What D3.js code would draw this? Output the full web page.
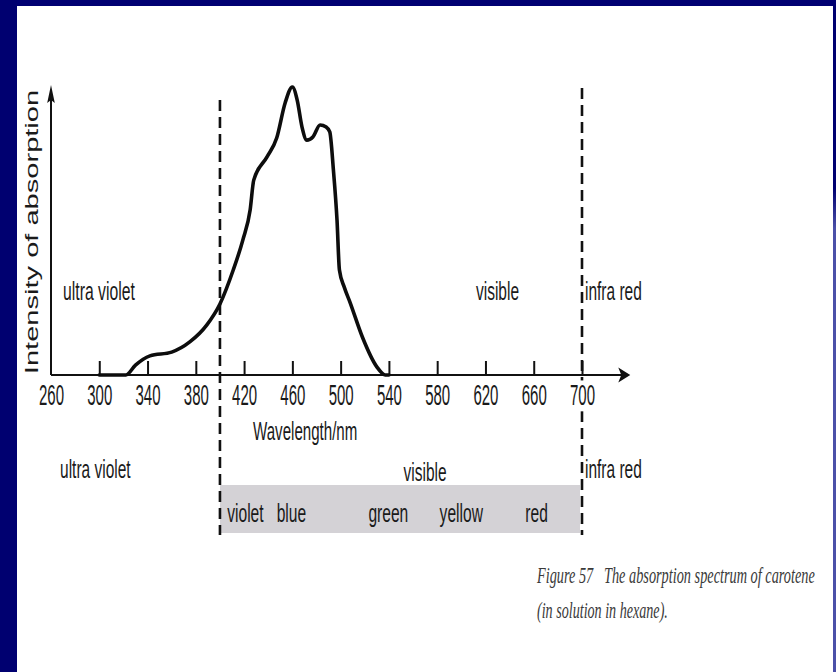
<!DOCTYPE html>
<html>
<head>
<meta charset="utf-8">
<script src="https://cdn.jsdelivr.net/npm/d3@7"></script>
<style>
  html, body { margin: 0; padding: 0; background: #ffffff; }
  svg { display: block; }
  text { font-family: "Liberation Sans", Arial, sans-serif; fill: #1a1a1a; }
</style>
</head>
<body>
<script>
// ---------- data ----------
const wavelengths = [300, 322, 330, 342, 360, 375, 389, 400, 411, 419, 425, 428, 439, 447, 454, 460, 464, 468, 472, 477, 483, 488, 491, 494, 497, 499, 503, 508, 518, 530, 537, 540];
const absorption  = [0,   0,   3.4, 6.6, 7.9, 11.4, 17.2, 24.5, 36.2, 46.6, 56.9, 67.2, 75.2, 81.7, 93.8, 99.3, 94.8, 85.5, 81.0, 82.1, 86.2, 85.5, 83.8, 70.7, 53.4, 36.2, 30.3, 24.8, 13.1, 2.8, 0, 0];
const tickValues  = [260, 300, 340, 380, 420, 460, 500, 540, 580, 620, 660, 700];
const regionBounds = [400, 700];            // dashed lines (nm)
const upperLabels = ["ultra violet", "visible", "infra red"];
const lowerLabels = ["ultra violet", "visible", "infra red"];
const colourNames = ["violet", "blue", "green", "yellow", "red"];
const colourNm    = [406, 447, 523, 582, 653];
const xTitle = "Wavelength/nm";
const yTitle = "Intensity of absorption";
const caption = ["Figure 57\u00a0\u00a0\u00a0The absorption spectrum of carotene", "(in solution in hexane)."];

// ---------- setup ----------
const W = 836, H = 672;
const svg = d3.select("body").append("svg").attr("width", W).attr("height", H);

// frame
const defs = svg.append("defs");
const grad = defs.append("linearGradient").attr("id", "rgrad").attr("x1", 0).attr("y1", 0).attr("x2", 0).attr("y2", 1);
grad.append("stop").attr("offset", "0%").attr("stop-color", "#000070");
grad.append("stop").attr("offset", "28%").attr("stop-color", "#000070");
grad.append("stop").attr("offset", "34%").attr("stop-color", "#4b50a8");
grad.append("stop").attr("offset", "100%").attr("stop-color", "#4b50a8");
svg.append("rect").attr("x", 0).attr("y", 0).attr("width", W).attr("height", 6).attr("fill", "#000072");
svg.append("rect").attr("x", 0).attr("y", 0).attr("width", 17).attr("height", H).attr("fill", "#000070");
svg.append("rect").attr("x", 833).attr("y", 0).attr("width", 3).attr("height", H).attr("fill", "url(#rgrad)");

const x = d3.scaleLinear().domain([260, 700]).range([51, 582]);
const y = d3.scaleLinear().domain([0, 100]).range([375, 85]);

function label(g, px, py, txt, o) {
  return g.append("text")
    .attr("transform", `translate(${px},${py}) scale(${o.sx || 1},1)`)
    .attr("text-anchor", o.anchor || "start")
    .style("font-size", o.size + "px")
    .text(txt);
}

// gray visible band
svg.append("rect")
  .attr("x", x(regionBounds[0])).attr("y", 485)
  .attr("width", x(regionBounds[1]) - x(regionBounds[0]) - 2).attr("height", 48)
  .attr("fill", "#d4d2d6");

// dashed region lines
svg.selectAll("line.dash").data(regionBounds).join("line")
  .attr("class", "dash")
  .attr("x1", d => x(d)).attr("x2", d => x(d))
  .attr("y1", (d, i) => i === 0 ? 100 : 88).attr("y2", 535)
  .attr("stroke", "#111").attr("stroke-width", 2.6)
  .attr("stroke-dasharray", "11,6");

// axes lines
const axisEnd = x(740);
svg.append("line").attr("x1", x(260)).attr("x2", axisEnd - 8).attr("y1", y(0)).attr("y2", y(0))
  .attr("stroke", "#111").attr("stroke-width", 2);
svg.append("line").attr("x1", x(260)).attr("x2", x(260)).attr("y1", y(0)).attr("y2", y(100) + 12)
  .attr("stroke", "#111").attr("stroke-width", 2);
// arrowheads
const ax = axisEnd, ay = y(0);
svg.append("path").attr("d", `M${ax},${ay} L${ax - 12},${ay - 7.5} L${ax - 9},${ay} L${ax - 12},${ay + 7.5} Z`).attr("fill", "#111");
const bx = x(260), by = y(100);
svg.append("path").attr("d", `M${bx},${by} L${bx + 3.8},${by + 18} L${bx},${by + 15} L${bx - 3.8},${by + 18} Z`).attr("fill", "#111");

// ticks via d3 axis
const xAxis = d3.axisBottom(x).tickValues(tickValues).tickSizeInner(-14).tickSizeOuter(0).tickPadding(0);
const gx = svg.append("g").attr("transform", `translate(0,${y(0)})`).call(xAxis);
gx.select(".domain").remove();
gx.selectAll(".tick line").attr("stroke", "#111").attr("stroke-width", 2)
  .attr("display", d => d === 260 ? "none" : null);
gx.selectAll(".tick text")
  .attr("y", null).attr("dy", null)
  .attr("transform", "translate(0,30) scale(0.5,1)")
  .attr("fill", "#1a1a1a")
  .style("font-size", "30px")
  .style("font-family", '"Liberation Sans", Arial, sans-serif');
// white backing so the dashed line breaks behind the labels
gx.selectAll(".tick").each(function () {
  const t = d3.select(this).select("text");
  const bb = t.node().getBBox();
  d3.select(this).insert("rect", "text")
    .attr("transform", "translate(0,30) scale(0.5,1)")
    .attr("x", bb.x - 2).attr("y", bb.y + 2)
    .attr("width", bb.width + 4).attr("height", bb.height - 2)
    .attr("fill", "#ffffff");
});

// curve
const pts = wavelengths.map((w, i) => [w, absorption[i]]);
const line = d3.line().x(d => x(d[0])).y(d => y(d[1])).curve(d3.curveMonotoneX);
svg.append("path").datum(pts).attr("d", line)
  .attr("fill", "none").attr("stroke", "#0d0d0d").attr("stroke-width", 3.6)
  .attr("stroke-linejoin", "round").attr("stroke-linecap", "round");

// titles
label(svg, x(427.4), 440, xTitle, { size: 26.5, sx: 0.57 });
svg.append("text")
  .attr("transform", `translate(38,232) rotate(-90) scale(1.53,1)`)
  .attr("text-anchor", "middle")
  .style("font-size", "19px")
  .text(yTitle);

// region labels (upper)
label(svg, x(270), 300, upperLabels[0], { size: 25, sx: 0.63 });
label(svg, x(630), 300, upperLabels[1], { size: 25, sx: 0.62, anchor: "middle" });
label(svg, x(702.5), 300, upperLabels[2], { size: 25, sx: 0.62 });
// region labels (lower)
label(svg, x(267.5), 478, lowerLabels[0], { size: 25, sx: 0.62 });
label(svg, x(570), 481, lowerLabels[1], { size: 25, sx: 0.62, anchor: "middle" });
label(svg, x(702.5), 478, lowerLabels[2], { size: 25, sx: 0.62 });
// colour names
colourNames.forEach((c, i) => label(svg, x(colourNm[i]), 522, c, { size: 26, sx: 0.6 }));

// caption (condensed italic serif)
const capW = [278, 131];
caption.forEach((c, i) => {
  const t = svg.append("text")
    .style("font-family", '"Liberation Serif", "Times New Roman", serif')
    .style("font-style", "italic")
    .style("font-size", "14px")
    .style("fill", "#3a3a3a")
    .text(c);
  const nat = t.node().getComputedTextLength();
  t.attr("transform", `translate(537,${i === 0 ? 583 : 618}) scale(${capW[i] / nat},1.65)`);
});
</script>
</body>
</html>
